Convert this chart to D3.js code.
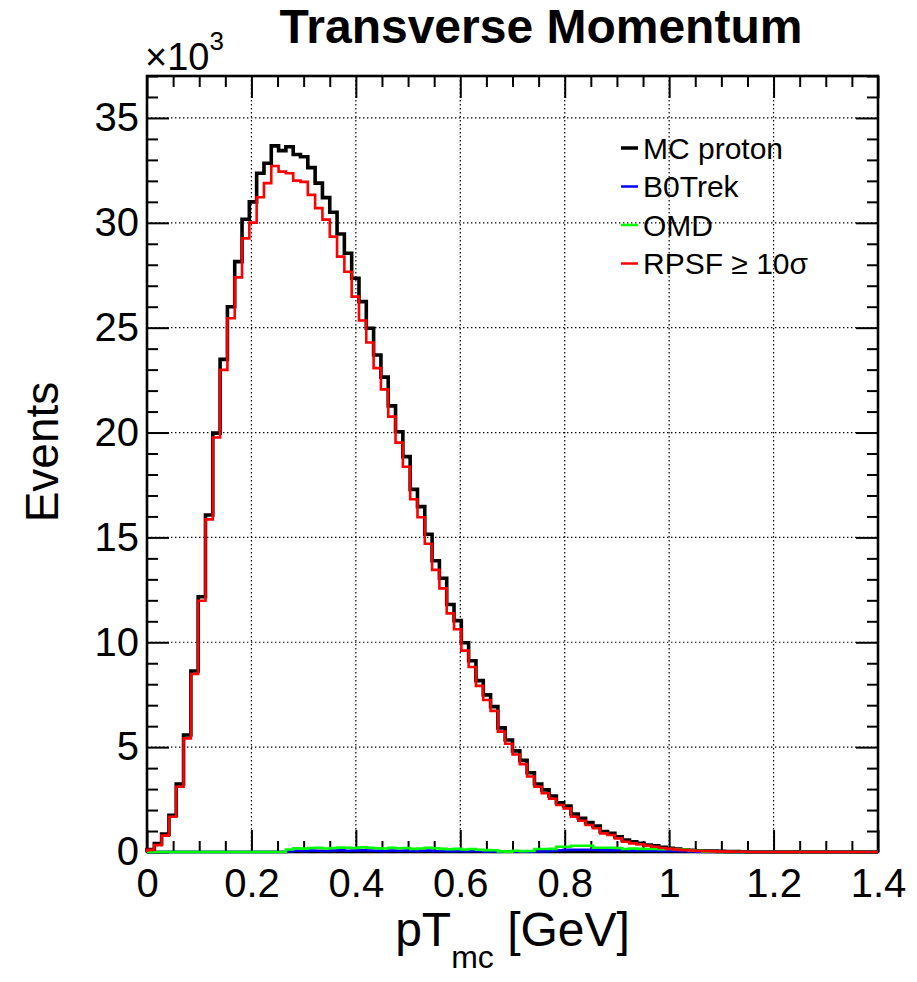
<!DOCTYPE html>
<html>
<head>
<meta charset="utf-8">
<script src="https://cdn.jsdelivr.net/npm/d3@7"></script>
<style>
body { margin: 0; background: #fff; }
svg text { font-family: "Liberation Sans", Arial, Helvetica, sans-serif; fill: #000; }
</style>
</head>
<body>
<div id="chart"></div>
<script>
// histogram: 100 bins from 0 to 1.4 GeV, contents in units of 10^3 events
var nBins = 100, xLo = 0, xHi = 1.4;

var mcProton = [
  0.12, 0.40, 0.85, 1.75, 3.24, 5.58, 8.63, 12.17, 16.07, 19.97,
  23.49, 26.00, 28.15, 30.17, 31.00, 32.36, 32.84, 33.67, 33.44, 33.63,
  33.26, 33.15, 32.63, 31.89, 31.20, 30.50, 29.47, 28.55, 27.36, 26.24,
  24.97, 23.70, 22.64, 21.27, 20.04, 18.85, 17.29, 16.47, 15.15, 13.89,
  13.05, 11.80, 11.03, 9.98, 9.12, 8.17, 7.49, 6.93, 5.92, 5.34,
  4.82, 4.37, 3.78, 3.24, 2.96, 2.67, 2.35, 2.19, 1.81, 1.61,
  1.40, 1.24, 0.97, 0.89, 0.73, 0.57, 0.49, 0.41, 0.33, 0.29,
  0.22, 0.18, 0.14, 0.10, 0.08, 0.06, 0.05, 0.04, 0.03, 0.02,
  0.02, 0.01, 0, 0, 0, 0, 0, 0, 0, 0,
  0, 0, 0, 0, 0, 0, 0, 0, 0, 0
];

var b0Trek = [
  0, 0, 0, 0, 0, 0, 0, 0, 0, 0,
  0, 0, 0, 0, 0, 0, 0, 0, 0, 0.04,
  0.06, 0.05, 0.07, 0.06, 0.05, 0.07, 0.08, 0.06, 0.07, 0.08,
  0.07, 0.06, 0.05, 0.07, 0.06, 0.07, 0.05, 0.06, 0.07, 0.05,
  0.05, 0.04, 0.05, 0.04, 0.05, 0.04, 0.03, 0.03, 0.01, 0.01,
  0.02, 0.01, 0.02, 0.03, 0.04, 0.06, 0.08, 0.10, 0.10, 0.11,
  0.10, 0.10, 0.09, 0.09, 0.08, 0.08, 0.07, 0.07, 0.06, 0.06,
  0.05, 0.05, 0.05, 0.04, 0.03, 0.02, 0, 0, 0, 0,
  0, 0, 0, 0, 0, 0, 0, 0, 0, 0,
  0, 0, 0, 0, 0, 0, 0, 0, 0, 0
];

var omd = [
  0, 0, 0, 0, 0, 0, 0, 0, 0, 0,
  0, 0, 0, 0, 0, 0, 0, 0, 0, 0.12,
  0.18, 0.16, 0.19, 0.20, 0.17, 0.19, 0.21, 0.20, 0.19, 0.22,
  0.20, 0.18, 0.17, 0.20, 0.18, 0.19, 0.15, 0.17, 0.20, 0.18,
  0.15, 0.13, 0.15, 0.12, 0.14, 0.11, 0.09, 0.08, 0.03, 0.02,
  0.06, 0.04, 0.05, 0.14, 0.14, 0.15, 0.25, 0.25, 0.30, 0.30,
  0.30, 0.20, 0.20, 0.20, 0.19, 0.14, 0.17, 0.15, 0.14, 0.14,
  0.13, 0.14, 0.13, 0.12, 0.07, 0.06, 0.02, 0.01, 0, 0,
  0, 0, 0, 0, 0, 0, 0, 0, 0, 0,
  0, 0, 0, 0, 0, 0, 0, 0, 0, 0
];

var rpsf = [
  0.10, 0.33, 0.78, 1.68, 3.11, 5.42, 8.49, 11.98, 15.86, 19.76,
  22.99, 25.45, 27.40, 29.26, 30.01, 31.22, 31.89, 32.71, 32.44, 32.36,
  32.01, 31.95, 31.33, 30.70, 30.15, 29.34, 28.39, 27.67, 26.48, 25.34,
  24.29, 23.07, 22.06, 20.76, 19.52, 18.37, 16.82, 15.96, 14.70, 13.45,
  12.57, 11.38, 10.62, 9.60, 8.82, 7.92, 7.25, 6.73, 5.74, 5.16,
  4.65, 4.19, 3.60, 3.11, 2.80, 2.54, 2.24, 2.08, 1.68, 1.49,
  1.29, 1.13, 0.89, 0.81, 0.65, 0.49, 0.41, 0.37, 0.30, 0.25,
  0.19, 0.15, 0.12, 0.09, 0.07, 0.05, 0.04, 0.03, 0.02, 0.02,
  0.01, 0.01, 0, 0, 0, 0, 0, 0, 0, 0,
  0, 0, 0, 0, 0, 0, 0, 0, 0, 0
];

var seriesNames = ["MC proton", "B0Trek", "OMD", "RPSF \u2265 10\u03c3"];
var seriesColors = ["#000000", "#0000ff", "#00ff00", "#ff0000"];

var xTickValues = [0, 0.2, 0.4, 0.6, 0.8, 1.0, 1.2, 1.4];
var xTickLabels = ["0", "0.2", "0.4", "0.6", "0.8", "1", "1.2", "1.4"];
var yTickValues = [0, 5, 10, 15, 20, 25, 30, 35];
var yTickLabels = ["0", "5", "10", "15", "20", "25", "30", "35"];

var W = 917, H = 982;
var margin = {left: 147, right: 39, top: 76, bottom: 130};
var pw = W - margin.left - margin.right,
    ph = H - margin.top - margin.bottom;

var x = d3.scaleLinear().domain([xLo, xHi]).range([0, pw]);
var y = d3.scaleLinear().domain([0, 37]).range([ph, 0]);

var svg = d3.select("#chart").append("svg")
    .attr("width", W)
    .attr("height", H);

var g = svg.append("g")
    .attr("transform", "translate(" + margin.left + "," + margin.top + ")");

// dotted grid at major ticks
g.append("g").selectAll("line")
    .data(xTickValues.slice(1, -1))
    .enter().append("line")
    .attr("x1", d => x(d)).attr("x2", d => x(d))
    .attr("y1", 0).attr("y2", ph)
    .attr("stroke", "#000").attr("stroke-width", 1.2)
    .attr("stroke-dasharray", "1.4,2.6");
g.append("g").selectAll("line")
    .data(yTickValues.slice(1))
    .enter().append("line")
    .attr("y1", d => y(d)).attr("y2", d => y(d))
    .attr("x1", 0).attr("x2", pw)
    .attr("stroke", "#000").attr("stroke-width", 1.2)
    .attr("stroke-dasharray", "1.4,2.6");

// frame (histograms are painted over it, as in ROOT)
g.append("rect")
    .attr("width", pw).attr("height", ph)
    .attr("fill", "none").attr("stroke", "#000").attr("stroke-width", 2.6);

// axes: ticks point inwards, minor ticks in between
var xMinor = d3.range(0, 29).map(i => i * 0.05).filter(d => Math.abs(d / 0.2 - Math.round(d / 0.2)) > 1e-6);
var yMinor = d3.range(0, 38).filter(d => d % 5 !== 0);

function styleAxis(sel) {
  sel.select(".domain").remove();
  sel.selectAll(".tick line").attr("stroke", "#000").attr("stroke-width", 2);
  sel.selectAll("text").style("font-size", "40px").attr("fill", "#000");
}

g.append("g").attr("transform", "translate(0," + ph + ")")
    .call(d3.axisBottom(x).tickValues(xTickValues).tickSize(-22).tickPadding(17)
      .tickFormat((d, i) => xTickLabels[i]))
    .call(styleAxis);
g.append("g").attr("transform", "translate(0," + ph + ")")
    .call(d3.axisBottom(x).tickValues(xMinor).tickSize(-11).tickFormat(""))
    .call(styleAxis);
g.append("g")
    .call(d3.axisTop(x).tickValues(xTickValues).tickSize(-22).tickFormat(""))
    .call(styleAxis);
g.append("g")
    .call(d3.axisTop(x).tickValues(xMinor).tickSize(-11).tickFormat(""))
    .call(styleAxis);

g.append("g")
    .call(d3.axisLeft(y).tickValues(yTickValues).tickSize(-22).tickPadding(8)
      .tickFormat((d, i) => yTickLabels[i]))
    .call(styleAxis);
g.append("g")
    .call(d3.axisLeft(y).tickValues(yMinor).tickSize(-11).tickFormat(""))
    .call(styleAxis);
g.append("g").attr("transform", "translate(" + pw + ",0)")
    .call(d3.axisRight(y).tickValues(yTickValues).tickSize(-22).tickFormat(""))
    .call(styleAxis);
g.append("g").attr("transform", "translate(" + pw + ",0)")
    .call(d3.axisRight(y).tickValues(yMinor).tickSize(-11).tickFormat(""))
    .call(styleAxis);

// step outline like ROOT "HIST"
var binW = (xHi - xLo) / nBins;
function histPoints(vals) {
  var pts = [[xLo, 0]];
  vals.forEach(function(v, i) { pts.push([xLo + i * binW, v]); });
  pts.push([xHi, 0]);
  return pts;
}
var line = d3.line()
    .x(d => x(d[0]))
    .y(d => y(d[1]))
    .curve(d3.curveStepAfter);

var series = [mcProton, b0Trek, omd, rpsf];
var widths = [3.6, 2.6, 2.6, 2.6];
series.forEach(function(vals, k) {
  g.append("path")
      .datum(histPoints(vals))
      .attr("fill", "none")
      .attr("stroke", seriesColors[k])
      .attr("stroke-width", widths[k])
      .attr("stroke-linejoin", "miter")
      .attr("d", line);
});

// exponent label
var expo = svg.append("text")
    .attr("x", margin.left - 2).attr("y", 70)
    .style("font-size", "38px");
expo.append("tspan").text("\u00d710");
expo.append("tspan").attr("dy", -20).style("font-size", "26px").text("3");

// title
svg.append("text")
    .attr("x", 541).attr("y", 43)
    .attr("text-anchor", "middle")
    .style("font-size", "48px").style("font-weight", "bold")
    .text("Transverse Momentum");

// x axis title with subscript
var xt = svg.append("text")
    .attr("x", margin.left + pw / 2).attr("y", 946)
    .attr("text-anchor", "middle")
    .style("font-size", "48px");
xt.append("tspan").text("pT");
xt.append("tspan").attr("dy", 22).style("font-size", "32px").text("mc");
xt.append("tspan").attr("dy", -22).text(" [GeV]");

// y axis title
svg.append("text")
    .attr("transform", "translate(58," + (margin.top + ph / 2 - 12) + ") rotate(-90)")
    .attr("text-anchor", "middle")
    .style("font-size", "46px")
    .text("Events");

// legend
var leg = svg.append("g").attr("transform", "translate(621,148)");
seriesNames.forEach(function(name, k) {
  var row = leg.append("g").attr("transform", "translate(0," + k * 38.5 + ")");
  row.append("line")
      .attr("x1", 0).attr("x2", 17)
      .attr("stroke", seriesColors[k])
      .attr("stroke-width", k === 0 ? 3.5 : 2.5);
  row.append("text")
      .attr("x", 22).attr("dy", "0.36em")
      .style("font-size", "30px")
      .text(name);
});
</script>
</body>
</html>
